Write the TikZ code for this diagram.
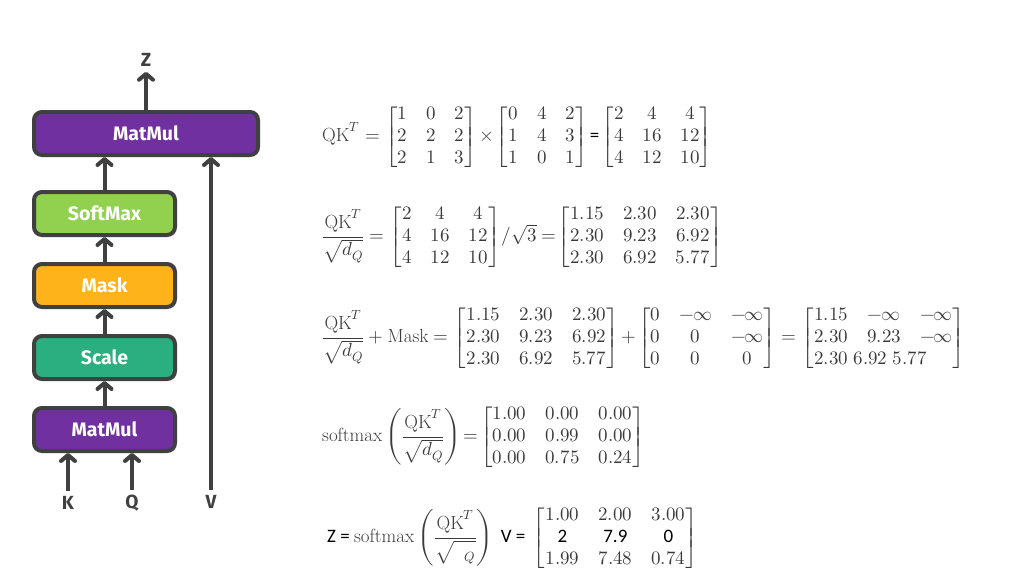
\documentclass[tikz,border=0pt]{standalone}
\usepackage{amsmath}
\usepackage{unicode-math}
\usepackage{fontspec}
\newfontfamily\boxfont{Fira Sans}
\newfontfamily\carlito{Carlito}
\usetikzlibrary{arrows.meta}

\definecolor{edge}{HTML}{404040}
\definecolor{mathgray}{HTML}{3A3A3A}
\definecolor{matpurple}{HTML}{7030A0}
\definecolor{softgreen}{HTML}{92D050}
\definecolor{maskorange}{HTML}{FFB31A}
\definecolor{scaleteal}{HTML}{2BAE80}

\newcommand\ninf{{-}\mkern-1mu\infty}
\newcommand\calib[1]{\text{\color{black}\carlito #1}}

\tikzset{
  block/.style={draw=edge, line width=4pt, rounded corners=8pt,
    minimum height=43pt, text=white,
    font=\boxfont\bfseries\fontsize{19.5}{21}\selectfont},
  smallblock/.style={block, minimum width=141pt},
  flow/.style={draw=edge, line width=4pt,
    -{Straight Barb[length=6pt,width=14pt,line cap=round,line join=round]}},
  io/.style={text=edge, font=\boxfont\bfseries\fontsize{19}{21}\selectfont,
    inner sep=5pt},
  eq/.style={anchor=west, inner sep=0pt, text=mathgray,
    font=\fontsize{19}{22}\selectfont},
}

\begin{document}
\begin{tikzpicture}[x=1pt,y=-1pt]
  \useasboundingbox (0,0) rectangle (1024,576);
  \setlength{\arraycolsep}{9.5pt}

  % attention blocks
  \node [block, fill=matpurple, minimum width=224pt] (mmtop) at (146,133.5) {MatMul};
  \node [smallblock, fill=softgreen]  (soft)  at (104.5,213.5) {SoftMax};
  \node [smallblock, fill=maskorange] (mask)  at (104.5,285.5) {Mask};
  \node [smallblock, fill=scaleteal]  (scale) at (104.5,357.5) {Scale};
  \node [smallblock, fill=matpurple]  (mmbot) at (104.5,429.5) {MatMul};

  % inputs and output
  \node [io] (k) at (68,503) {K};
  \node [io] (q) at (132,503) {Q};
  \node [io] (v) at (211,502) {V};
  \node [io] (z) at (146,60)  {Z};

  \draw[flow] (k.north) -- (k.north |- mmbot.south);
  \draw[flow] (q.north) -- (q.north |- mmbot.south);
  \draw[flow] (v.north) -- (v.north |- mmtop.south);
  \draw[flow] (mmbot.north) -- (scale.south);
  \draw[flow] (scale.north) -- (mask.south);
  \draw[flow] (mask.north) -- (soft.south);
  \draw[flow] (soft.north) -- (soft.north |- mmtop.south);
  \draw[flow] (mmtop.north -| z) -- (z.south);

  % equations
  \node [eq] (eqone) at (322,137) {$\mathrm{QK}^T =
    \begin{bmatrix}1&0&2\\2&2&2\\2&1&3\end{bmatrix}\mkern-2mu\times\mkern-2mu
    \begin{bmatrix}0&4&2\\1&4&3\\1&0&1\end{bmatrix}\mkern-1mu\calib{=}\mkern-1mu
    \begin{bmatrix}2&4&4\\4&16&12\\4&12&10\end{bmatrix}$};
  \node [eq] (eqtwo) at (322,237) {$\dfrac{\mathrm{QK}^T}{\sqrt{d_Q}} =
    \begin{bmatrix}2&4&4\\4&16&12\\4&12&10\end{bmatrix}\mkern-2mu/\sqrt{3} =\mkern-4mu
    \begin{bmatrix}1.15&2.30&2.30\\2.30&9.23&6.92\\2.30&6.92&5.77\end{bmatrix}$};
  \node [eq] (eqthree) at (322,338) {$\dfrac{\mathrm{QK}^T}{\sqrt{d_Q}} + \mathrm{Mask} =
    \begin{bmatrix}1.15&2.30&2.30\\2.30&9.23&6.92\\2.30&6.92&5.77\end{bmatrix}\mkern-2mu+\mkern-2mu
    \begin{bmatrix}0&\ninf&\ninf\\0&0&\ninf\\0&0&0\end{bmatrix} =
    \begin{bmatrix}1.15&\ninf&\ninf\\2.30&9.23&\ninf\\
      \multicolumn{3}{l}{2.30\;6.92\;5.77}\end{bmatrix}$};
  \node [eq] (eqfour) at (322,437) {$\mathrm{softmax}\left(\dfrac{\mathrm{QK}^T}{\sqrt{d_Q}}\right)\mkern-3mu =\mkern-3mu
    \begin{bmatrix}1.00&0.00&0.00\\0.00&0.99&0.00\\0.00&0.75&0.24\end{bmatrix}$};
  \node [eq] (eqfive) at (327,538) {$\calib{Z = }\mathrm{softmax}\left(\dfrac{\mathrm{QK}^T}{\sqrt{\phantom{d}_Q}}\right)
    \calib{ V = }\begin{bmatrix}1.00&2.00&3.00\\\calib{2}&\calib{7.9}&\calib{0}\\1.99&7.48&0.74\end{bmatrix}$};
\end{tikzpicture}
\end{document}
